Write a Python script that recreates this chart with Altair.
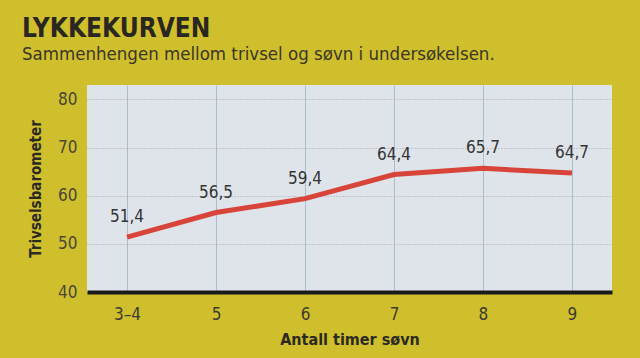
import altair as alt
import pandas as pd

categories = ["3–4", "5", "6", "7", "8", "9"]
values = [51.4, 56.5, 59.4, 64.4, 65.7, 64.7]
labels = ["51,4", "56,5", "59,4", "64,4", "65,7", "64,7"]
y_ticks = [40, 50, 60, 70, 80]

df = pd.DataFrame({"timer": categories, "trivsel": values, "label": labels})

FONT = "DejaVu Sans Condensed, Roboto Condensed, Liberation Sans Narrow, Roboto"

x = alt.X("timer:N", sort=categories, scale=alt.Scale(type="point", padding=0.45),
          axis=alt.Axis(title="Antall timer søvn", labelAngle=0, labelFontSize=17,
                        labelColor="#3d3a30", labelPadding=14, ticks=False,
                        domainColor="#1a1a1a", domainWidth=4, grid=True,
                        gridColor="#a9bfd0", gridWidth=1, titleFontSize=16,
                        titleFontWeight="bold", titleColor="#2b2a22", titlePadding=9,
                        labelFont=FONT, titleFont=FONT))
y = alt.Y("trivsel:Q", scale=alt.Scale(domain=[40, 83], nice=False, zero=False),
          axis=alt.Axis(title="Trivselsbarometer", values=y_ticks, labelFontSize=17,
                        labelColor="#4a4638", labelPadding=10, ticks=False, domain=False,
                        grid=True, gridColor="#a8a8a8", gridDash=[1, 2], gridWidth=1,
                        titleFontSize=15, titleFontWeight="bold", titleColor="#2b2a22",
                        titlePadding=14, labelFont=FONT, titleFont=FONT))

line = alt.Chart(df).mark_line(color="#d8443a", strokeWidth=5, strokeCap="butt").encode(x=x, y=y)
text = alt.Chart(df).mark_text(dy=-20, fontSize=17, color="#333333", font=FONT).encode(
    x=alt.X("timer:N", sort=categories), y="trivsel:Q", text="label:N")

chart = (line + text).properties(
    width=525, height=207,
    background="#d0bf2c",
    padding={"left": 87, "top": 85, "right": 28, "bottom": 66},
    autosize=alt.AutoSizeParams(type="none"),
    title=alt.TitleParams(
        text="LYKKEKURVEN",
        subtitle="Sammenhengen mellom trivsel og søvn i undersøkelsen.",
        anchor="start", frame="group", dx=-65, offset=22,
        font=FONT, fontSize=26, fontWeight="bold", color="#2a2620",
        subtitleFont=FONT, subtitleFontSize=18.5,
        subtitleColor="#3a3628", subtitlePadding=3),
).configure_view(fill="#dfe4ea", stroke=None)

chart.save("out.html", embed_options={"renderer": "svg", "actions": False})
